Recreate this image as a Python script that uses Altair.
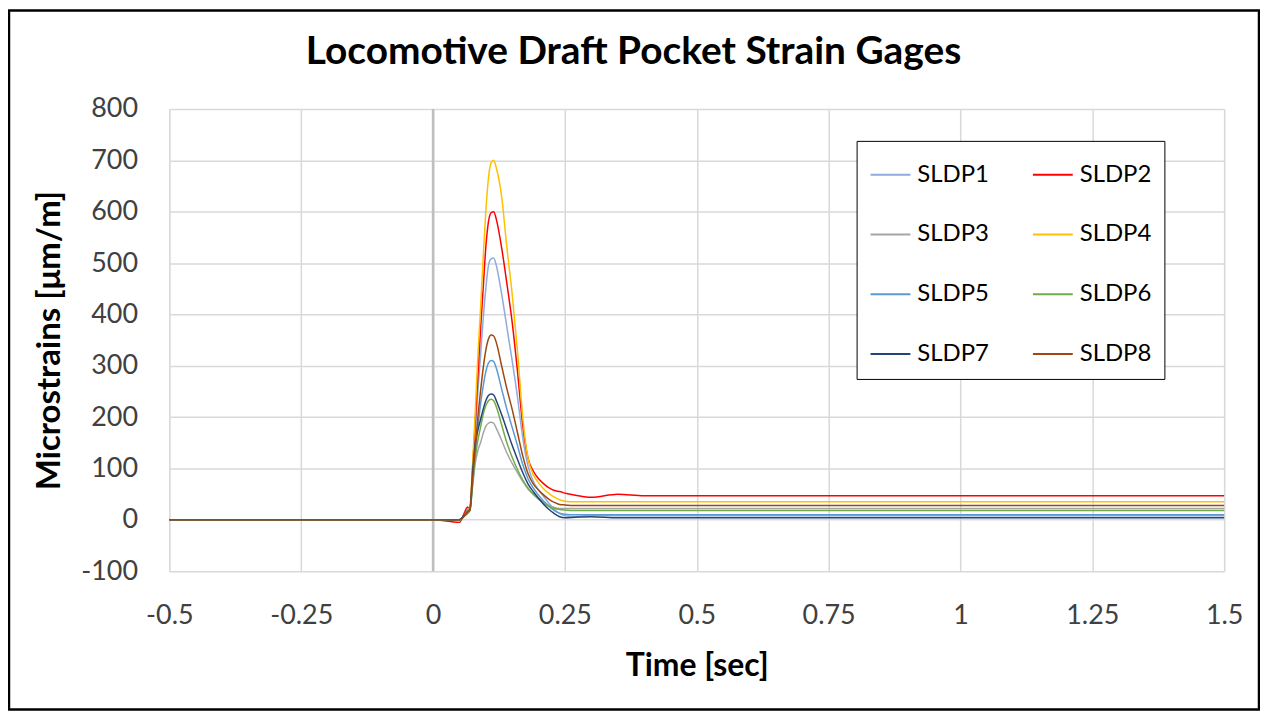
import altair as alt
import pandas as pd

TIME = [-0.5, 0.0, 0.05, 0.06, 0.065, 0.07, 0.075, 0.08, 0.085, 0.09, 0.095, 0.1, 0.105, 0.11,
        0.115, 0.12, 0.13, 0.14, 0.15, 0.16, 0.17, 0.18, 0.19, 0.2, 0.21, 0.22, 0.23, 0.24,
        0.25, 0.27, 0.3, 0.35, 0.4, 0.5, 0.75, 1.0, 1.25, 1.5]

SLDP1 = [0, 0, 0, 12, 20, 25, 90, 170, 250, 320, 390, 450, 495, 508,
         510, 495, 440, 375, 310, 240, 160, 105, 75, 58, 45, 32, 20, 12,
         8, 6, 9, 8, 8, 8, 8, 8, 8, 8]
SLDP2 = [0, 0, -5, 15, 25, 20, 100, 190, 280, 370, 450, 530, 580, 598,
         600, 585, 530, 460, 385, 290, 185, 120, 95, 80, 70, 62, 57, 55,
         52, 48, 44, 50, 47, 47, 47, 47, 47, 47]
SLDP3 = [0, 0, 0, 8, 12, 18, 65, 110, 135, 150, 168, 182, 188, 190,
         188, 178, 155, 130, 110, 92, 75, 60, 50, 42, 35, 28, 24, 22,
         22, 22, 22, 22, 22, 22, 22, 22, 22, 22]
SLDP4 = [0, 0, 0, 10, 18, 25, 110, 210, 320, 410, 510, 600, 665, 695,
         700, 685, 630, 530, 440, 330, 200, 120, 88, 72, 60, 51, 44, 39,
         36, 35, 35, 35, 35, 35, 35, 35, 35, 35]
SLDP5 = [0, 0, 0, 10, 18, 22, 75, 130, 180, 225, 260, 288, 305, 310,
         308, 295, 255, 215, 180, 145, 108, 80, 62, 48, 36, 26, 18, 13,
         11, 10, 10, 10, 10, 10, 10, 10, 10, 10]
SLDP6 = [0, 0, 0, 8, 12, 18, 70, 120, 155, 180, 205, 222, 232, 235,
         232, 220, 185, 150, 122, 98, 78, 62, 50, 40, 32, 26, 22, 20,
         19, 18, 18, 18, 18, 18, 18, 18, 18, 18]
SLDP7 = [0, 0, 0, 10, 15, 20, 95, 150, 175, 195, 215, 232, 242, 245,
         243, 232, 205, 175, 145, 118, 92, 70, 55, 42, 30, 20, 12, 6,
         4, 5, 6, 4, 4, 4, 4, 4, 4, 4]
SLDP8 = [0, 0, 0, 8, 15, 20, 80, 140, 200, 250, 295, 330, 352, 360,
         358, 345, 300, 255, 215, 170, 125, 90, 70, 58, 48, 40, 34, 30,
         29, 28, 28, 28, 28, 28, 28, 28, 28, 28]

SERIES = ["SLDP1", "SLDP2", "SLDP3", "SLDP4", "SLDP5", "SLDP6", "SLDP7", "SLDP8"]
COLORS = ["#8FAADC", "#FF0000", "#A5A5A5", "#FFC000", "#5B9BD5", "#70AD47", "#264478", "#9E480E"]
VALUES = [SLDP1, SLDP2, SLDP3, SLDP4, SLDP5, SLDP6, SLDP7, SLDP8]

X_TICKS = [-0.5, -0.25, 0, 0.25, 0.5, 0.75, 1, 1.25, 1.5]
Y_TICKS = [-100, 0, 100, 200, 300, 400, 500, 600, 700, 800]
AXIS_CROSS = [0]

rows = []
for name, vals in zip(SERIES, VALUES):
    for t, v in zip(TIME, vals):
        rows.append({"series": name, "time": t, "value": v})
df = pd.DataFrame(rows)

FONT = "Lato"
W, H = 1059, 464

xscale = alt.Scale(domain=[-0.5, 1.5], nice=False, zero=False)
yscale = alt.Scale(domain=[-100, 800], nice=False, zero=False)

lines = alt.Chart(df).mark_line(strokeWidth=1.5, interpolate="monotone").encode(
    x=alt.X("time:Q", scale=xscale,
            axis=alt.Axis(values=X_TICKS, title="Time [sec]", labelExpr="'' + datum.value",
                          grid=True, gridColor="#D9D9D9", gridWidth=1.5, domain=False, ticks=False,
                          labelFont=FONT, labelFontSize=27, labelColor="#404040", labelPadding=32,
                          titleFont=FONT, titleFontSize=32, titleFontWeight="bold", titleColor="#000000",
                          titlePadding=22, labelFlush=False)),
    y=alt.Y("value:Q", scale=yscale,
            axis=alt.Axis(values=Y_TICKS, title="Microstrains [μm/m]", labelExpr="'' + datum.value",
                          grid=True, gridColor="#D9D9D9", gridWidth=1.5, domain=False, ticks=False,
                          labelFont=FONT, labelFontSize=27, labelColor="#404040", labelPadding=32,
                          titleFont=FONT, titleFontSize=33, titleFontWeight="bold", titleColor="#000000",
                          titlePadding=14)),
    color=alt.Color("series:N", scale=alt.Scale(domain=SERIES, range=COLORS),
                    legend=alt.Legend(title=None, orient="none", legendX=690, legendY=32,
                                      columns=2, symbolType="stroke", symbolSize=1600,
                                      symbolStrokeWidth=2, labelFont=FONT, labelFontSize=24,
                                      labelColor="#000000", rowPadding=27, columnPadding=40,
                                      padding=13, strokeColor="#000000", fillColor="#FFFFFF",
                                      labelOffset=6, direction="horizontal")),
)

cross = alt.Chart(pd.DataFrame({"x": AXIS_CROSS})).mark_rule(color="#BFBFBF", strokeWidth=2.5).encode(
    x=alt.X("x:Q", scale=xscale)
)

border = alt.Chart(pd.DataFrame({"a": [0]})).mark_rect(
    fill=None, stroke="#000000", strokeWidth=2.5
).encode(x=alt.value(-161), x2=alt.value(1094), y=alt.value(-99), y2=alt.value(603))

title = alt.Chart(pd.DataFrame({"a": [0]})).mark_text(
    text="Locomotive Draft Pocket Strain Gages", font=FONT, fontSize=39, fontWeight="bold",
    color="#000000", align="center", baseline="middle"
).encode(x=alt.value(466), y=alt.value(-57))

chart = alt.layer(cross, lines, border, title).properties(
    width=W, height=H,
    padding={"left": 162, "top": 100, "right": 36, "bottom": 140},
    autosize=alt.AutoSizeParams(type="none"),
).configure_view(stroke=None).configure(background="#FFFFFF")

chart.save("out.html", embed_options={"renderer": "svg", "actions": False})
